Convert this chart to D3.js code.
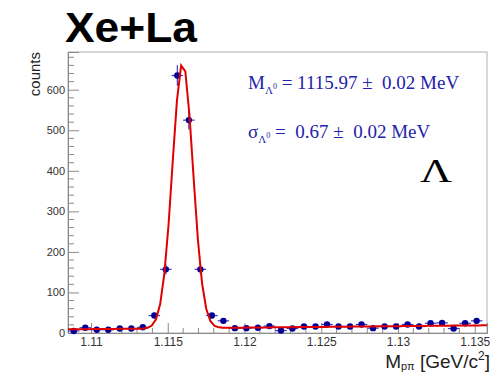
<!DOCTYPE html>
<html>
<head>
<meta charset="utf-8">
<script src="https://cdn.jsdelivr.net/npm/d3@7"></script>
<style>
  body { margin: 0; background: #fff; }
  svg { display: block; }
  text { white-space: pre; }
</style>
</head>
<body>
<svg id="chart" width="492" height="373"></svg>
<script>
// histogram: 36 bins starting at 1.1085 GeV, width 0.75 MeV
var binLow = 1.1085;
var binWidth = 0.00075;
var counts = [5, 13, 8, 8, 11, 11, 14, 43, 157, 635, 525, 157, 43, 30,
              12, 12, 13, 17, 6, 11, 16, 16, 21, 16, 16, 21, 12, 16, 16,
              21, 16, 24, 25, 11, 24, 30];

// fit: gaussian (amp, mean, sigma) + linear background (left, right)
var fitGauss = [655, 1.11597, 0.00067];
var fitBkg = [9, 19];

var xTicks = [1.11, 1.115, 1.12, 1.125, 1.13, 1.135];
var xTickLabels = ["1.11", "1.115", "1.12", "1.125", "1.13", "1.135"];
var yTicks = [0, 100, 200, 300, 400, 500, 600];

var svg = d3.select("#chart");
var pLeft = 68, pRight = 487, pTop = 52, pBottom = 333;

var x = d3.scaleLinear().domain([1.1085, 1.1358]).range([pLeft, pRight]);
var y = d3.scaleLinear().domain([0, 693]).range([pBottom, pTop]);

var blue = "#000099";
var axisCol = "#8a8a8a";

// frame
svg.append("rect")
    .attr("x", pLeft).attr("y", pTop)
    .attr("width", pRight - pLeft).attr("height", pBottom - pTop)
    .attr("fill", "none").attr("stroke", "#b0b0b0").attr("stroke-width", 1);

// x axis ticks (inside)
var xAxis = d3.axisBottom(x).tickValues(xTicks)
    .tickFormat((d, i) => xTickLabels[i]).tickSize(-10).tickPadding(4);
var gx = svg.append("g").attr("transform", "translate(0," + pBottom + ")").call(xAxis);
gx.select(".domain").attr("stroke", axisCol);
gx.selectAll(".tick line").attr("stroke", axisCol);
gx.selectAll("text").attr("font-family", "Liberation Sans, Arial, sans-serif")
    .attr("font-size", 12).attr("fill", "#333");

var minorX = d3.range(1.109, 1.1358, 0.001).filter(v => xTicks.every(t => Math.abs(t - v) > 1e-6));
svg.append("g").selectAll("line").data(minorX).enter().append("line")
    .attr("x1", d => x(d)).attr("x2", d => x(d))
    .attr("y1", pBottom).attr("y2", pBottom - 5)
    .attr("stroke", axisCol);

// y axis ticks (inside)
var yAxis = d3.axisLeft(y).tickValues(yTicks).tickSize(-11).tickPadding(3);
var gy = svg.append("g").attr("transform", "translate(" + pLeft + ",0)").call(yAxis);
gy.select(".domain").attr("stroke", axisCol);
gy.selectAll(".tick line").attr("stroke", axisCol);
gy.selectAll("text").attr("font-family", "Liberation Sans, Arial, sans-serif")
    .attr("font-size", 11).attr("fill", "#333");

var minorY = d3.range(20, 693, 20).filter(v => v % 100 != 0);
svg.append("g").selectAll("line").data(minorY).enter().append("line")
    .attr("x1", pLeft).attr("x2", pLeft + 6)
    .attr("y1", d => y(d)).attr("y2", d => y(d))
    .attr("stroke", axisCol);

// fit curve, sampled like ROOT (npx = 100)
function fitFunc(v) {
    var g = fitGauss[0] * Math.exp(-0.5 * Math.pow((v - fitGauss[1]) / fitGauss[2], 2));
    var t = (v - x.domain()[0]) / (x.domain()[1] - x.domain()[0]);
    return g + fitBkg[0] + (fitBkg[1] - fitBkg[0]) * t;
}
var curvePts = d3.range(101).map(i => {
    var v = x.domain()[0] + i * (x.domain()[1] - x.domain()[0]) / 100;
    return [v, fitFunc(v)];
});
var line = d3.line().x(d => x(d[0])).y(d => y(d[1]));

// data points with errors
var pts = counts.map((c, i) => ({ xv: binLow + (i + 0.5) * binWidth, yv: c, err: Math.sqrt(c) }));
var gp = svg.append("g");
gp.selectAll(".ex").data(pts).enter().append("line")
    .attr("x1", d => x(d.xv - binWidth / 2)).attr("x2", d => x(d.xv + binWidth / 2))
    .attr("y1", d => y(d.yv)).attr("y2", d => y(d.yv))
    .attr("stroke", "#3a3ab8").attr("stroke-width", 1.2);
gp.selectAll(".ey").data(pts).enter().append("line")
    .attr("x1", d => x(d.xv)).attr("x2", d => x(d.xv))
    .attr("y1", d => y(d.yv - d.err)).attr("y2", d => y(d.yv + d.err))
    .attr("stroke", "#3a3ab8").attr("stroke-width", 1.2);

svg.append("path").datum(curvePts)
    .attr("d", line).attr("fill", "none")
    .attr("stroke", "#e00000").attr("stroke-width", 2);

gp.selectAll("circle").data(pts).enter().append("circle")
    .attr("cx", d => x(d.xv)).attr("cy", d => y(d.yv))
    .attr("r", 3.2).attr("fill", blue);

// titles
svg.append("text").attr("x", 65).attr("y", 42)
    .attr("font-family", "Liberation Sans, Arial, sans-serif")
    .attr("font-weight", "bold").attr("font-size", 42)
    .attr("textLength", 132).attr("lengthAdjust", "spacingAndGlyphs")
    .text("Xe+La");

svg.append("text")
    .attr("transform", "translate(40," + pTop + ") rotate(-90)")
    .attr("text-anchor", "end")
    .attr("font-family", "Liberation Sans, Arial, sans-serif")
    .attr("font-size", 15).attr("fill", "#222")
    .text("counts");

var xt = svg.append("text").attr("x", 490).attr("y", 368)
    .attr("text-anchor", "end")
    .attr("font-family", "Liberation Sans, Arial, sans-serif")
    .attr("font-size", 19).attr("fill", "#222");
xt.append("tspan").text("M");
xt.append("tspan").attr("font-size", 11).attr("dy", 2).text("p\u03c0");
xt.append("tspan").attr("dy", -2).text(" [GeV/c");
xt.append("tspan").attr("font-size", 12).attr("dy", -8).text("2");
xt.append("tspan").attr("dy", 8).text("]");

// fit results
var txtBlue = "#2222aa";
var t1 = svg.append("text").attr("x", 248).attr("y", 89)
    .attr("font-family", "Liberation Serif, Times New Roman, serif")
    .attr("font-size", 19).attr("fill", txtBlue);
t1.append("tspan").text("M");
t1.append("tspan").attr("font-size", 11).attr("dy", 5).text("\u039b");
t1.append("tspan").attr("font-size", 8).attr("dy", -5).text("0");
t1.append("tspan").attr("dy", 0).text(" = 1115.97 \u00b1  0.02 MeV");

var t2 = svg.append("text").attr("x", 248).attr("y", 138)
    .attr("font-family", "Liberation Serif, Times New Roman, serif")
    .attr("font-size", 19).attr("fill", txtBlue);
t2.append("tspan").text("\u03c3");
t2.append("tspan").attr("font-size", 11).attr("dy", 5).text("\u039b");
t2.append("tspan").attr("font-size", 8).attr("dy", -5).text("0");
t2.append("tspan").attr("dy", 0).text(" =  0.67 \u00b1  0.02 MeV");

svg.append("text").attr("x", 420).attr("y", 182)
    .attr("font-family", "Liberation Serif, Times New Roman, serif")
    .attr("font-size", 33).attr("fill", "#000")
    .attr("textLength", 32).attr("lengthAdjust", "spacingAndGlyphs")
    .text("\u039b");
</script>
</body>
</html>
